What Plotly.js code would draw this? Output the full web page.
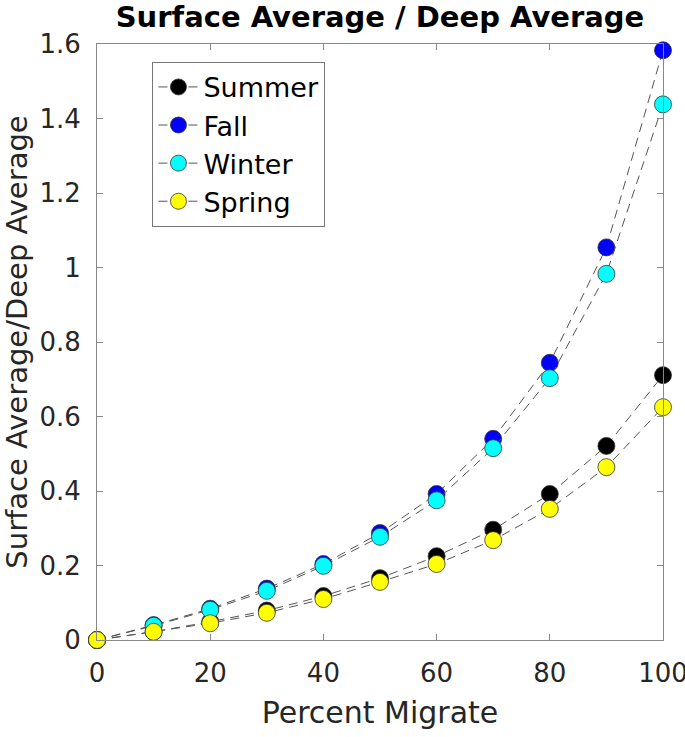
<!DOCTYPE html>
<html>
<head>
<script src="https://cdn.plot.ly/plotly-3.0.1.min.js"></script>
<style>html,body{margin:0;padding:0;background:#fff;}</style>
</head>
<body>
<div id="chart" style="width:685px;height:737px;"></div>
<script>
const percentMigrate = [0, 10, 20, 30, 40, 50, 60, 70, 80, 90, 100];
const summer = [0, 0.022, 0.049, 0.079, 0.118, 0.166, 0.225, 0.296, 0.392, 0.521, 0.711];
const fall   = [0, 0.040, 0.084, 0.138, 0.204, 0.287, 0.392, 0.540, 0.744, 1.054, 1.583];
const winter = [0, 0.038, 0.081, 0.132, 0.199, 0.277, 0.375, 0.515, 0.703, 0.983, 1.438];
const spring = [0, 0.022, 0.045, 0.073, 0.110, 0.156, 0.204, 0.268, 0.352, 0.464, 0.625];
const seriesNames = ["Summer", "Fall", "Winter", "Spring"];
const seriesColors = ["#000000", "#0000ff", "#00ffff", "#ffff00"];
const seriesData = [summer, fall, winter, spring];
const xTicks = [0, 20, 40, 60, 80, 100];
const yTicks = [0, 0.2, 0.4, 0.6, 0.8, 1, 1.2, 1.4, 1.6];
const yTickText = ["0", "0.2", "0.4", "0.6", "0.8", "1", "1.2", "1.4", "1.6"];

const font = "DejaVu Sans, Liberation Sans, Arial, sans-serif";
const traces = seriesData.map((ys, i) => ({
  x: percentMigrate, y: ys, name: seriesNames[i], type: "scatter", mode: "lines+markers",
  cliponaxis: false,
  line: {color: "#555555", width: 1, dash: "9px,6px"},
  marker: {size: 17, color: seriesColors[i], line: {color: "#333333", width: 0.8}}
}));

const axisCommon = {
  showgrid: false, zeroline: false, showline: true, linecolor: "#888888", linewidth: 1,
  mirror: "ticks", ticks: "inside", ticklen: 6, tickcolor: "#888888",
  tickfont: {family: font, size: 26, color: "#262626"},
  ticklabeloverflow: "allow"
};

const layout = {
  width: 685, height: 737,
  margin: {l: 97, r: 22, t: 44, b: 97},
  paper_bgcolor: "#ffffff", plot_bgcolor: "#ffffff",
  showlegend: true,
  title: {text: "<b>Surface Average / Deep Average</b>", font: {family: font, size: 29, color: "#000"},
          x: 0.5, xref: "paper", xanchor: "center", y: 0.977, yref: "container", yanchor: "middle"},
  xaxis: Object.assign({}, axisCommon, {
    range: [0, 100], tickvals: xTicks, ticklabelstandoff: 10,
    title: {text: "Percent Migrate", font: {family: font, size: 30, color: "#262626"}, standoff: 14}
  }),
  yaxis: Object.assign({}, axisCommon, {
    range: [0, 1.6], tickvals: yTicks, ticktext: yTickText, ticklabelstandoff: 10,
    title: {text: "Surface Average/Deep Average", font: {family: font, size: 29, color: "#262626"}, standoff: 4}
  }),
  legend: {
    x: 0.098, y: 0.97, xanchor: "left", yanchor: "top",
    bgcolor: "#ffffff", bordercolor: "#777777", borderwidth: 1,
    font: {family: font, size: 27, color: "#000"},
    itemwidth: 40
  }
};

Plotly.newPlot("chart", traces, layout, {displayModeBar: false, staticPlot: true});
</script>
</body>
</html>
